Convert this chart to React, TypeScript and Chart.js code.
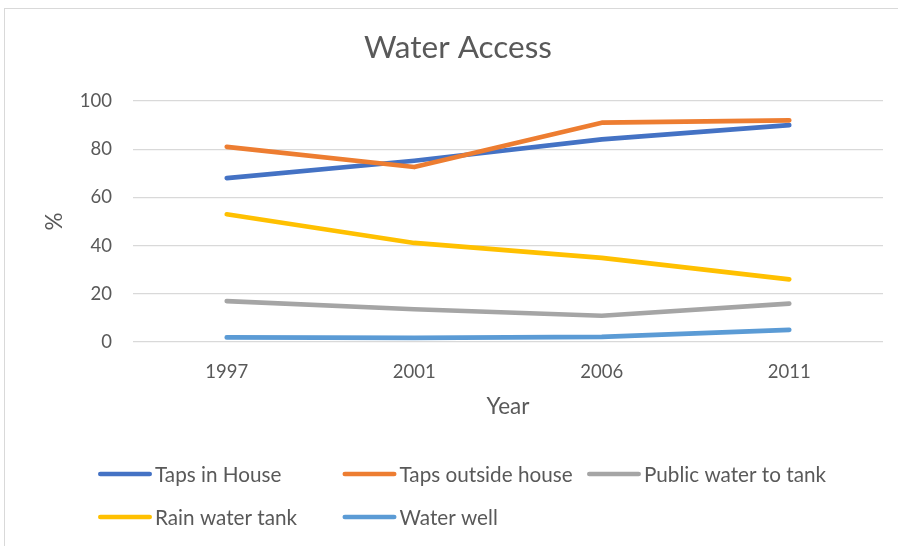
import React, { useEffect, useRef } from "react";
import { Chart, registerables } from "chart.js";

Chart.register(...registerables);

const years = ["1997", "2001", "2006", "2011"];
const tapsInHouse = [68, 75.2, 84.1, 90];
const tapsOutsideHouse = [81, 72.6, 91, 92];
const publicWaterToTank = [17, 13.6, 10.9, 15.9];
const rainWaterTank = [53, 41.1, 34.9, 26];
const waterWell = [1.9, 1.7, 2.1, 5];
const seriesNames = ["Taps in House", "Taps outside house", "Public water to tank", "Rain water tank", "Water well"];
const seriesValues = [tapsInHouse, tapsOutsideHouse, publicWaterToTank, rainWaterTank, waterWell];
const seriesColors = ["#4472C4", "#ED7D31", "#A5A5A5", "#FFC000", "#5B9BD5"];
const yTickValues = [0, 20, 40, 60, 80, 100];

const FONT = "Lato";
const TEXT = "#595959";

const gridLegend = {
  id: "gridLegend",
  afterDraw(chart: any) {
    const ctx = chart.ctx;
    const startX = 98;
    const colW = 244.5;
    const rowsY = [474, 517];
    const sampleLen = 54;
    const lw = 4.7;
    ctx.save();
    ctx.font = `20.7px ${FONT}`;
    ctx.textBaseline = "middle";
    ctx.textAlign = "left";
    chart.data.datasets.forEach((ds: any, i: number) => {
      const col = i % 3;
      const row = Math.floor(i / 3);
      const x0 = startX + col * colW;
      const y = rowsY[row];
      ctx.beginPath();
      ctx.strokeStyle = ds.borderColor;
      ctx.lineWidth = lw;
      ctx.lineCap = "round";
      ctx.moveTo(x0 + lw / 2, y);
      ctx.lineTo(x0 + sampleLen - lw / 2, y);
      ctx.stroke();
      ctx.fillStyle = TEXT;
      ctx.fillText(ds.label, x0 + sampleLen + 3, y + 1);
    });
    ctx.restore();
  },
};

export default function App() {
  const ref = useRef<HTMLCanvasElement | null>(null);
  useEffect(() => {
    if (!ref.current) return;
    const n = seriesNames.length;
    const chart = new Chart(ref.current, {
      type: "line",
      data: {
        labels: years,
        datasets: seriesNames.map((name, i) => ({
          label: name,
          data: seriesValues[i],
          borderColor: seriesColors[i],
          backgroundColor: seriesColors[i],
          borderWidth: 4.7,
          borderCapStyle: "round",
          borderJoinStyle: "round",
          pointRadius: 0,
          tension: 0,
          fill: false,
          order: n - 1 - i,
        })),
      },
      options: {
        animation: false,
        responsive: false,
        devicePixelRatio: 1,
        layout: { padding: { left: 33, right: 15, top: 0, bottom: 124 } },
        plugins: {
          legend: { display: false },
          tooltip: { enabled: false },
          title: {
            display: true,
            text: "Water Access",
            color: TEXT,
            font: { family: FONT, size: 31.5, weight: "normal", lineHeight: 1.2 },
            padding: { top: 29.1, bottom: 34.1 },
          },
        },
        scales: {
          x: {
            offset: true,
            grid: { display: false, drawTicks: false },
            border: { display: false },
            ticks: { color: TEXT, font: { family: FONT, size: 18.5, lineHeight: 1.2 }, padding: 19 },
            title: {
              display: true,
              text: "Year",
              color: TEXT,
              font: { family: FONT, size: 22.5, lineHeight: 1.2 },
              padding: { top: 0, bottom: 1.5 },
            },
            afterFit: (s: any) => {
              s.height = 80;
            },
          },
          y: {
            min: 0,
            max: 100,
            afterBuildTicks: (s: any) => {
              s.ticks = yTickValues.map((v) => ({ value: v }));
            },
            grid: { color: "#d9d9d9", lineWidth: 1.3, drawTicks: false },
            border: { display: false },
            ticks: { color: TEXT, font: { family: FONT, size: 18.5, lineHeight: 1.2 }, padding: 21 },
            title: {
              display: true,
              text: "%",
              color: TEXT,
              font: { family: FONT, size: 22.5, lineHeight: 1.2 },
              padding: { top: 8.5, bottom: 0 },
            },
            afterFit: (s: any) => {
              s.width = 100;
            },
          },
        },
      } as any,
      plugins: [gridLegend],
    });
    return () => chart.destroy();
  }, []);

  return (
    <div>
      <canvas
        ref={ref}
        width={898}
        height={546}
        style={{ position: "fixed", left: 0, top: 0, width: 898, height: 546 }}
      />
      <div
        style={{
          position: "fixed",
          left: 4,
          top: 8,
          width: 900,
          height: 545,
          border: "1px solid #d9d9d9",
          boxSizing: "border-box",
          pointerEvents: "none",
        }}
      />
    </div>
  );
}
